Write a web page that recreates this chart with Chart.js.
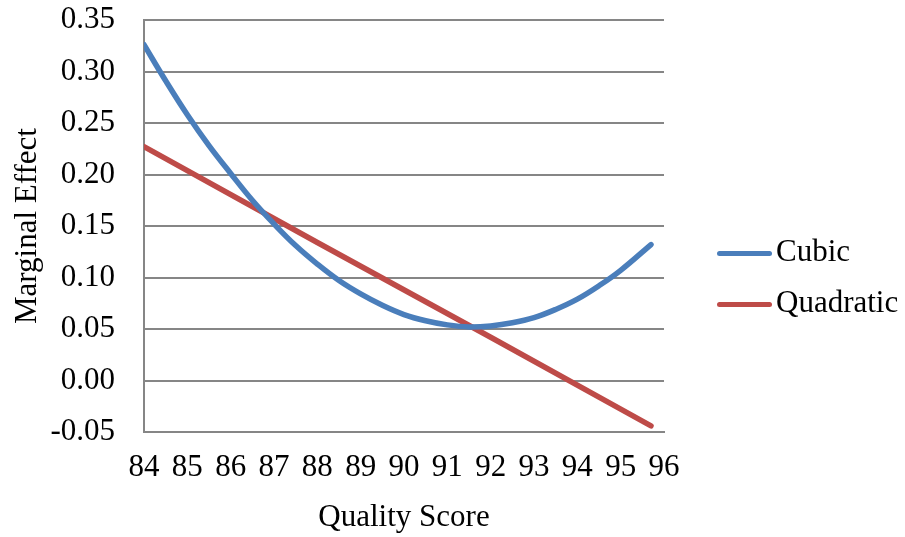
<!DOCTYPE html>
<html lang="en">
<head>
    <meta charset="UTF-8">
    <title>Marginal Effect by Quality Score</title>
    <script src="https://cdn.jsdelivr.net/npm/chart.js"></script>
    <style>
        body {
            margin: 0;
            background: #ffffff;
        }
        #wrap {
            position: relative;
            width: 905px;
            height: 537px;
        }
        #legend {
            position: absolute;
            left: 717px;
            top: 229px;
            font-family: 'Liberation Serif', 'Times New Roman', serif;
            font-size: 31px;
            color: #000;
        }
        #legend div {
            height: 51px;
            line-height: 44px;
            white-space: nowrap;
        }
        #legend span {
            display: inline-block;
            width: 55px;
            height: 5px;
            border-radius: 3px;
            margin-right: 4px;
            vertical-align: middle;
        }
    </style>
</head>
<body>
    <div id="wrap">
        <canvas id="chart"></canvas>
        <div id="legend"></div>
    </div>
    <script>
        // values
        const cubicScores = [84, 84.5, 85, 85.5, 86, 86.5, 87, 87.5, 88, 88.5, 89, 89.5, 90, 90.5, 91, 91.5, 92, 92.5, 93, 93.5, 94, 94.5, 95, 95.7];
        const cubic = [0.326, 0.291, 0.258, 0.228, 0.201, 0.175, 0.152, 0.131, 0.113, 0.097, 0.084, 0.073, 0.064, 0.058, 0.054, 0.052, 0.053, 0.056, 0.061, 0.069, 0.079, 0.092, 0.107, 0.132];
        const quadScores = [84, 88, 92, 95.7];
        const quadratic = [0.227, 0.134, 0.042, -0.044];
        const seriesNames = ["Cubic", "Quadratic"];
        const seriesColors = ["#4A7EBB", "#BE4B48"];
        const xTitle = "Quality Score";
        const yTitle = "Marginal Effect";

        const font = "'Liberation Serif', 'Times New Roman', serif";
        const gridColor = "#868686";

        function toPoints(xs, ys) {
            return xs.map((x, i) => ({ x: x, y: ys[i] }));
        }

        const chart = new Chart(document.getElementById("chart"), {
            type: "scatter",
            data: {
                datasets: [{
                    label: seriesNames[0],
                    data: toPoints(cubicScores, cubic),
                    showLine: true,
                    borderColor: seriesColors[0],
                    borderWidth: 5.5,
                    borderCapStyle: "round",
                    pointRadius: 0,
                    tension: 0.4
                }, {
                    label: seriesNames[1],
                    data: toPoints(quadScores, quadratic),
                    showLine: true,
                    borderColor: seriesColors[1],
                    borderWidth: 5.5,
                    borderCapStyle: "round",
                    pointRadius: 0
                }]
            },
            options: {
                responsive: true,
                maintainAspectRatio: false,
                animation: false,
                layout: { autoPadding: false, padding: { left: 12, right: 241, top: 20, bottom: 0 } },
                plugins: {
                    tooltip: { enabled: false },
                    legend: { display: false }
                },
                scales: {
                    x: {
                        type: "linear",
                        min: 84,
                        max: 96,
                        afterFit: s => { s.height = 105; },
                        ticks: { stepSize: 1, color: "#000", font: { family: font, size: 31 }, padding: 17, maxRotation: 0 },
                        grid: { display: false, drawTicks: false },
                        border: { color: gridColor, width: 2 },
                        title: { display: true, text: xTitle, color: "#000", font: { family: font, size: 31 }, padding: { top: 0, bottom: 1 } }
                    },
                    y: {
                        min: -0.05,
                        max: 0.35,
                        afterFit: s => {
                            s.width = 132;
                            s.paddingTop = 0;
                            s.paddingBottom = 0;
                        },
                        ticks: {
                            stepSize: 0.05,
                            color: "#000",
                            font: { family: font, size: 31 },
                            padding: 29,
                            callback: v => (Math.abs(v) < 1e-9 ? 0 : v).toFixed(2)
                        },
                        grid: { color: gridColor, lineWidth: 2, drawTicks: false },
                        border: { color: gridColor, width: 2 },
                        title: { display: true, text: yTitle, color: "#000", font: { family: font, size: 31, lineHeight: 1 }, padding: 0 }
                    }
                }
            }
        });

        const legend = document.getElementById("legend");
        chart.data.datasets.forEach((ds, i) => {
            const row = document.createElement("div");
            const swatch = document.createElement("span");
            swatch.style.background = seriesColors[i];
            row.appendChild(swatch);
            row.appendChild(document.createTextNode(ds.label));
            legend.appendChild(row);
        });
    </script>
</body>
</html>
